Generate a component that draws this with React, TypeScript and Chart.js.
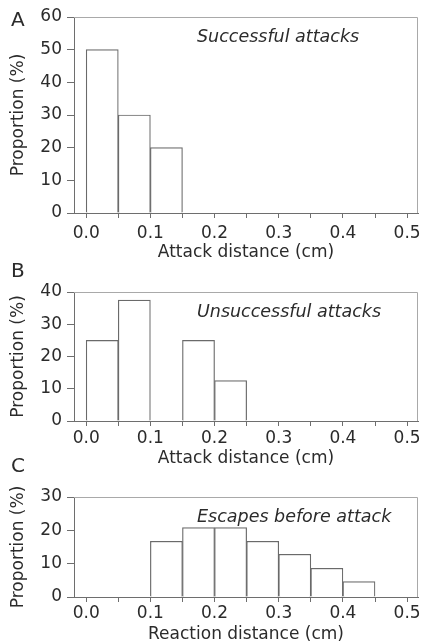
import React, { useEffect, useRef } from "react";
import { Chart, registerables } from "chart.js";

Chart.register(...registerables);

// ---------- data ----------
const binCentersA = [0.025, 0.075, 0.125];
const valuesA = [50, 30, 20];

const binCentersB = [0.025, 0.075, 0.175, 0.225];
const valuesB = [25, 37.5, 25, 12.5];

const binCentersC = [0.125, 0.175, 0.225, 0.275, 0.325, 0.375, 0.425];
const valuesC = [16.7, 20.8, 20.8, 16.7, 12.8, 8.6, 4.6];

const xTickValues = [0, 0.05, 0.1, 0.15, 0.2, 0.25, 0.3, 0.35, 0.4, 0.45, 0.5];
const xTickLabels = ["0.0", "0.1", "0.2", "0.3", "0.4", "0.5"];

const yTicksA = [0, 10, 20, 30, 40, 50, 60];
const yTicksB = [0, 10, 20, 30, 40];
const yTicksC = [0, 10, 20, 30];

const xTitles = ["Attack distance (cm)", "Attack distance (cm)", "Reaction distance (cm)"];
const yTitle = "Proportion (%)";
const panelLetters = ["A", "B", "C"];
const panelNotes = ["Successful attacks", "Unsuccessful attacks", "Escapes before attack"];

// ---------- style / layout ----------
const W = 421;
const H = 643;
const FONT = "'DejaVu Sans', 'Liberation Sans', sans-serif";
const TEXT = "#2b2b2b";
const AXIS = "#6e6e6e";
const BAR = "#6a6a6a";
const BOX = "#a9a9a9";

const panelLayouts = [
  { top: 17, bottom: 213, xh: 48, tp: 5, letterTop: 9.4, noteTop: 28.3 },
  { top: 292, bottom: 421, xh: 46.5, tp: 2, letterTop: 260.4, noteTop: 303.1 },
  { top: 497, bottom: 597, xh: 46, tp: 1.5, letterTop: 455.4, noteTop: 507.6 },
];

const boxPlugin = {
  id: "plotBox",
  afterDatasetsDraw(chart: any) {
    const { ctx, chartArea } = chart;
    const { left, right, top, bottom } = chartArea;
    ctx.save();
    ctx.strokeStyle = BOX;
    ctx.lineWidth = 1;
    ctx.beginPath();
    ctx.moveTo(left, top + 0.5);
    ctx.lineTo(right - 0.5, top + 0.5);
    ctx.lineTo(right - 0.5, bottom);
    ctx.stroke();
    ctx.restore();
  },
};

function makeConfig(centers: number[], values: number[], yTicks: number[], xTitle: string, lay: any): any {
  return {
    type: "bar",
    data: {
      datasets: [
        {
          data: centers.map((x, i) => ({ x, y: values[i] })),
          backgroundColor: "#ffffff",
          borderColor: BAR,
          borderWidth: 1.2,
          barPercentage: 1,
          categoryPercentage: 1,
          borderSkipped: "start",
        },
      ],
    },
    options: {
      responsive: false,
      animation: false,
      devicePixelRatio: 1,
      events: [],
      layout: { padding: { top: lay.top, bottom: Math.max(0, H - lay.bottom - lay.xh), left: 0, right: 3 } },
      plugins: { legend: { display: false }, tooltip: { enabled: false }, title: { display: false } },
      scales: {
        x: {
          type: "linear",
          min: -0.019,
          max: 0.517,
          offset: false,
          afterBuildTicks: (s: any) => {
            s.ticks = xTickValues.map((v) => ({ value: v }));
          },
          afterFit: (s: any) => {
            s.height = lay.xh;
            s.paddingLeft = 0;
            s.paddingRight = 0;
          },
          ticks: {
            autoSkip: false,
            maxRotation: 0,
            minRotation: 0,
            padding: lay.tp,
            color: TEXT,
            font: { family: FONT, size: 17 },
            callback: (_v: any, i: number) => (i % 2 === 0 ? xTickLabels[i / 2] : ""),
          },
          grid: { drawOnChartArea: false, drawTicks: true, tickLength: 5, color: AXIS, offset: false },
          border: { display: true, color: AXIS, width: 1 },
          title: {
            display: true,
            text: xTitle,
            color: TEXT,
            font: { family: FONT, size: 17, lineHeight: 1 },
            padding: { top: 0, bottom: 0 },
          },
        },
        y: {
          min: 0,
          max: yTicks[yTicks.length - 1],
          afterBuildTicks: (s: any) => {
            s.ticks = yTicks.map((v) => ({ value: v }));
          },
          afterFit: (s: any) => {
            s.width = 74;
            s.paddingTop = 0;
            s.paddingBottom = 0;
          },
          ticks: {
            padding: 5,
            color: TEXT,
            font: { family: FONT, size: 17 },
            callback: (v: any) => String(v),
          },
          grid: { drawOnChartArea: false, drawTicks: true, tickLength: 7, color: AXIS },
          border: { display: true, color: AXIS, width: 1 },
          title: {
            display: true,
            text: yTitle,
            color: TEXT,
            font: { family: FONT, size: 17, lineHeight: 1.2 },
            padding: { top: 8, bottom: 0 },
          },
        },
      },
    },
    plugins: [boxPlugin],
  };
}

function Panel({ centers, values, yTicks, xTitle, lay }: any) {
  const ref = useRef<HTMLCanvasElement | null>(null);
  useEffect(() => {
    if (!ref.current) return;
    const chart = new Chart(ref.current, makeConfig(centers, values, yTicks, xTitle, lay));
    return () => chart.destroy();
  }, []);
  return (
    <canvas
      ref={ref}
      width={W}
      height={H}
      style={{ position: "absolute", left: 0, top: 0, width: W, height: H }}
    />
  );
}

export default function App() {
  const panels = [
    { centers: binCentersA, values: valuesA, yTicks: yTicksA },
    { centers: binCentersB, values: valuesB, yTicks: yTicksB },
    { centers: binCentersC, values: valuesC, yTicks: yTicksC },
  ];
  return (
    <div
      style={{
        position: "fixed",
        left: 0,
        top: 0,
        width: W,
        height: H,
        background: "#ffffff",
        overflow: "hidden",
        fontFamily: FONT,
        color: TEXT,
      }}
    >
      {panels.map((p, i) => (
        <Panel key={i} centers={p.centers} values={p.values} yTicks={p.yTicks} xTitle={xTitles[i]} lay={panelLayouts[i]} />
      ))}
      {panelLetters.map((t, i) => (
        <div
          key={"l" + i}
          style={{
            position: "absolute",
            left: 11,
            top: panelLayouts[i].letterTop,
            fontSize: 20,
            lineHeight: "20px",
            whiteSpace: "nowrap",
          }}
        >
          {t}
        </div>
      ))}
      {panelNotes.map((t, i) => (
        <div
          key={"n" + i}
          style={{
            position: "absolute",
            left: 197,
            top: panelLayouts[i].noteTop,
            fontSize: 17.5,
            lineHeight: "17.5px",
            fontStyle: "italic",
            whiteSpace: "nowrap",
          }}
        >
          {t}
        </div>
      ))}
    </div>
  );
}
